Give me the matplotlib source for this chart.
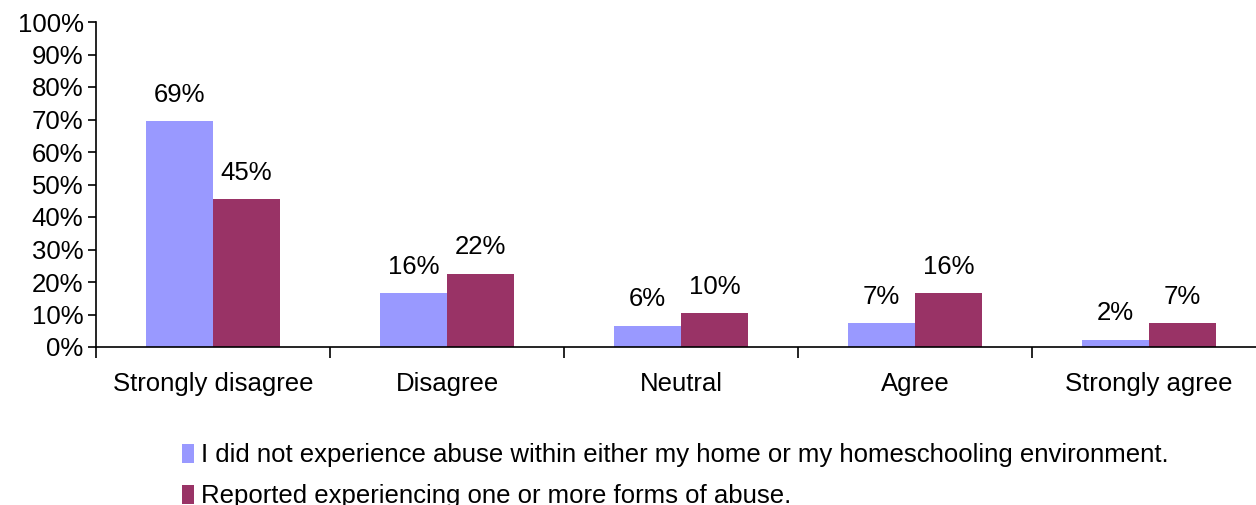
import numpy as np
import matplotlib
matplotlib.use('Agg')
from matplotlib import pyplot as plt
from matplotlib.ticker import FixedLocator, FuncFormatter

plt.rcParams['font.family'] = ['Liberation Sans', 'DejaVu Sans']

categories = ['Strongly disagree', 'Disagree', 'Neutral', 'Agree', 'Strongly agree']
no_abuse = [69.5, 16.5, 6.6, 7.3, 2.3]
abuse = [45.4, 22.6, 10.4, 16.5, 7.3]
no_abuse_labels = ['69%', '16%', '6%', '7%', '2%']
abuse_labels = ['45%', '22%', '10%', '16%', '7%']
series_names = ['I did not experience abuse within either my home or my homeschooling environment.',
                'Reported experiencing one or more forms of abuse.']

blue = '#9999FF'
maroon = '#993366'
fs = 18.5

fig = plt.figure(figsize=(12.56, 5.05), dpi=100)
ax = fig.add_axes([96 / 1256, 1 - 347 / 505, 1170 / 1256, 325 / 505])

x = np.arange(len(categories))
w = 0.285
b1 = ax.bar(x - w / 2, no_abuse, w, color=blue, label=series_names[0])
b2 = ax.bar(x + w / 2, abuse, w, color=maroon, label=series_names[1])

for bars, labs in ((b1, no_abuse_labels), (b2, abuse_labels)):
    for rect, lab in zip(bars, labs):
        ax.annotate(lab, (rect.get_x() + rect.get_width() / 2, rect.get_height()),
                    xytext=(0, 19), textcoords='offset points',
                    ha='center', va='center', fontsize=fs)

ax.set_xlim(-0.5, len(categories) - 0.5)
ax.set_ylim(0, 100)
ax.set_yticks(np.arange(0, 101, 10))
ax.yaxis.set_major_formatter(FuncFormatter(lambda v, p: f'{int(v)}%'))

ax.xaxis.set_major_locator(FixedLocator(np.arange(-0.5, len(categories), 1.0)))
ax.xaxis.set_major_formatter(FuncFormatter(lambda v, p: ''))
ax.xaxis.set_minor_locator(FixedLocator(x))
ax.set_xticklabels(categories, minor=True)
ax.tick_params(axis='x', which='major', length=8, width=1.2, direction='out')
ax.tick_params(axis='x', which='minor', length=0, pad=18, labelsize=fs)
ax.tick_params(axis='y', length=6, width=1.2, direction='out', labelsize=18.5, pad=3)

for s in ['top', 'right']:
    ax.spines[s].set_visible(False)
ax.spines['left'].set_linewidth(1.2)
ax.spines['bottom'].set_linewidth(1.2)

fig.legend(loc='upper left', bbox_to_anchor=(0.145, 0.122), frameon=False,
           fontsize=fs, handlelength=0.45, handleheight=0.75, handletextpad=0.3,
           labelspacing=0.65, borderaxespad=0, borderpad=0)

fig.savefig('out.png', dpi=100)
